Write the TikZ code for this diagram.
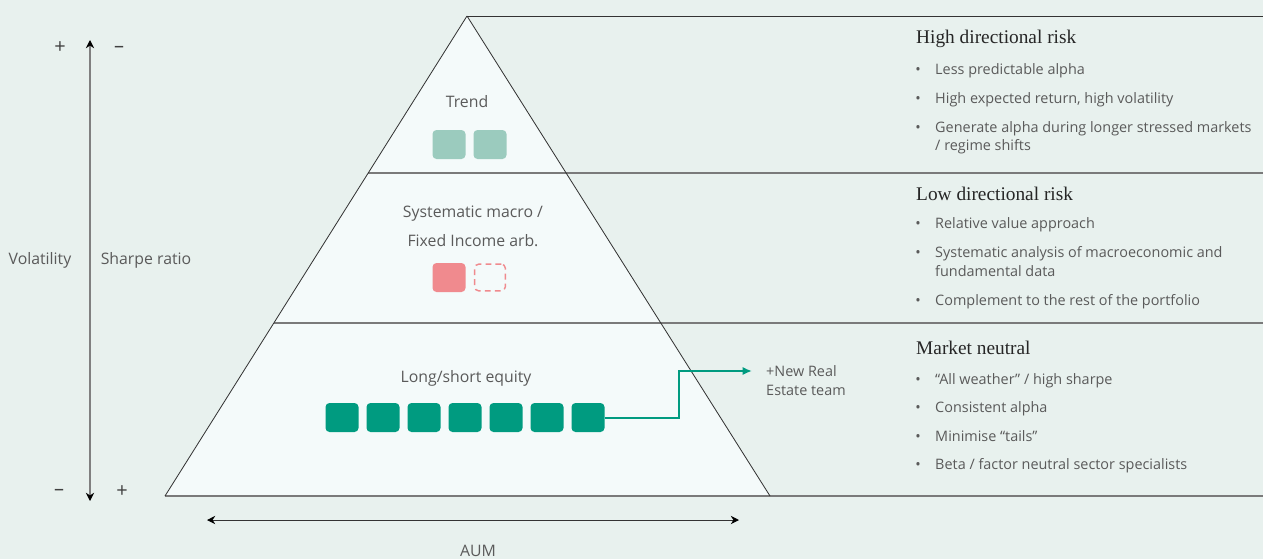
\documentclass[tikz,border=0pt]{standalone}
\usepackage{fontspec}
\setmainfont{Open Sans}
\newfontfamily\headfont{Liberation Serif}
\usetikzlibrary{arrows.meta}

\definecolor{bgcol}{HTML}{E8F1EE}
\definecolor{pyrfill}{HTML}{F4FAFA}
\definecolor{txtgray}{HTML}{5A5A5A}
\definecolor{trendcol}{HTML}{9BCBBE}
\definecolor{macrocol}{HTML}{F08A8E}
\definecolor{equitycol}{HTML}{009B80}
\definecolor{edgecol}{HTML}{333333}
\definecolor{levelcol}{HTML}{7A7A7A}

\begin{document}
\begin{tikzpicture}[x=0.03cm,y=-0.03cm]

\tikzstyle{every node}=[font=\fontsize{13.5}{16}\selectfont,text=txtgray,inner sep=0pt,text height=11.5pt,text depth=2.5pt]
\tikzstyle{item}=[anchor=west,font=\fontsize{12.3}{15}\selectfont]
\tikzstyle{dot}=[font=\fontsize{12.3}{15}\selectfont]
\tikzstyle{sign}=[font=\fontsize{17}{18}\selectfont,text=black!75]
\tikzstyle{heading}=[anchor=west,font=\headfont\fontsize{16.5}{18}\selectfont,text=black!85]
\tikzstyle{box}=[minimum width=0.99cm,minimum height=0.87cm,rounded corners=0.12cm]
\tikzstyle{level}=[levelcol,line width=1.1pt]
\tikzstyle{edge}=[edgecol,line width=0.7pt]

\fill[bgcol] (0,0) rectangle (1263,559);
\useasboundingbox (0,0) rectangle (1263,559);

% pyramid
\coordinate (apex) at (467,16);
\coordinate (baseL) at (165,496);
\coordinate (baseR) at (770,496);
\coordinate (lvl1) at (368,173);
\coordinate (lvl2) at (274,323);
\fill[pyrfill] (apex) -- (baseL) -- (baseR) -- cycle;
\draw[edge] (apex) -- (1263,16);
\draw[level] (lvl1) -- (1263,173);
\draw[level] (lvl2) -- (1263,323);
\draw[level] (baseL) -- (1263,496);
\draw[edge] (apex) -- (baseL);
\draw[edge] (apex) -- (baseR);

% axes
\coordinate (vtop) at (90,40);
\coordinate (vbot) at (90,501);
\draw[gray,line width=1pt,{Stealth[black,length=7pt,width=7pt]}-{Stealth[black,length=7pt,width=7pt]}] (vtop) -- (vbot);
\node[sign] (plustop) at (60,48) {+};
\node[sign] (minustop) at (119,47) {–};
\node[sign] (minusbot) at (59,490) {–};
\node[sign] (plusbot) at (122,492) {+};
\node (volname) at (40,259) {Volatility};
\node (sharpename) at (146,259) {Sharpe ratio};

\coordinate (aumL) at (207,520);
\coordinate (aumR) at (739,520);
\draw[edgecol,line width=0.8pt,{Stealth[black,length=7pt,width=7pt]}-{Stealth[black,length=7pt,width=7pt]}] (aumL) -- (aumR);
\node (aumname) at (478,551) {AUM};

% levels of the pyramid
\node (trendname) at (467,102) {Trend};
\node[box,fill=trendcol] (tr1) at (449,144.5) {};
\node[box,fill=trendcol] (tr2) at (490,144.5) {};

\node (macroname1) at (473,212) {Systematic macro /};
\node (macroname2) at (473,241) {Fixed Income arb.};
\node[box,fill=macrocol] (ma1) at (449,277.5) {};
\node[box,draw=macrocol,dash pattern=on 5pt off 3.5pt,line width=1.2pt,fill=pyrfill,minimum width=0.92cm,minimum height=0.8cm] (ma2) at (490,277.5) {};

\node (equityname) at (466,377) {Long/short equity};
\foreach \i in {1,...,7}
  \node[box,fill=equitycol] (eq\i) at ({301+41*\i},417.5) {};

\coordinate (jog) at (679,371);
\coordinate (newtip) at (752,371);
\draw[equitycol,line width=1.7pt,-{Latex[length=8pt,width=7pt]}] (eq7.east) -| (jog) -- (newtip);
\node[item] (newre1) at (766,371) {+New Real};
\node[item] (newre2) at (766,390) {Estate team};

% descriptions
\node[heading] (highname) at (916,38) {High directional risk};
\node[dot] (b11) at (918,69) {•};
\node[item] (t11) at (935,69) {Less predictable alpha};
\node[dot] (b12) at (918,98) {•};
\node[item] (t12) at (935,98) {High expected return, high volatility};
\node[dot] (b13) at (918,127) {•};
\node[item] (t13) at (935,127) {Generate alpha during longer stressed markets};
\node[item] (t13b) at (935,145) {/ regime shifts};

\node[heading] (lowname) at (916,195) {Low directional risk};
\node[dot] (b21) at (918,223) {•};
\node[item] (t21) at (935,223) {Relative value approach};
\node[dot] (b22) at (918,252) {•};
\node[item] (t22) at (935,252) {Systematic analysis of macroeconomic and};
\node[item] (t22b) at (935,271) {fundamental data};
\node[dot] (b23) at (918,300) {•};
\node[item] (t23) at (935,300) {Complement to the rest of the portfolio};

\node[heading] (neutralname) at (916,349) {Market neutral};
\node[dot] (b31) at (918,379) {•};
\node[item] (t31) at (935,379) {“All weather” / high sharpe};
\node[dot] (b32) at (918,407) {•};
\node[item] (t32) at (935,407) {Consistent alpha};
\node[dot] (b33) at (918,436) {•};
\node[item] (t33) at (935,436) {Minimise “tails”};
\node[dot] (b34) at (918,464) {•};
\node[item] (t34) at (935,464) {Beta / factor neutral sector specialists};

\end{tikzpicture}
\end{document}
